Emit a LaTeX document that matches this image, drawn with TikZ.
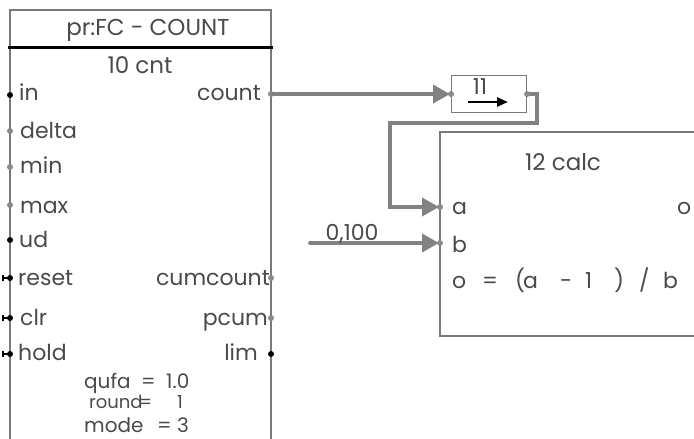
\documentclass[tikz,border=0pt]{standalone}
\usepackage{fontspec}
\setmainfont{Poppins}[Numbers=Monospaced]
\usetikzlibrary{arrows.meta}
\definecolor{txt}{HTML}{4A4A4A}
\definecolor{wire}{HTML}{828282}
\definecolor{frame}{HTML}{7A7A7A}
\definecolor{pdot}{HTML}{8A8A8A}
\begin{document}
\begin{tikzpicture}[x=1pt,y=-1pt,
  lbl/.style={inner sep=0pt, text=txt, font=\fontsize{22}{23}\selectfont},
  big/.style={inner sep=0pt, text=txt, font=\fontsize{23}{24}\selectfont},
  small/.style={inner sep=0pt, text=txt, font=\fontsize{20}{20}\selectfont},
  tiny/.style={inner sep=0pt, text=txt, font=\fontsize{18}{18}\selectfont},
  frm/.style={draw=frame, line width=1.1pt},
  wireln/.style={draw=wire, line width=3.8pt, line join=miter},
  arr/.style={-{Triangle[length=17pt,width=18pt]}, shorten >=1pt},
  gdot/.style={fill=pdot},
  bdot/.style={fill=black}]
\useasboundingbox (0,0) rectangle (694,439);
% ---- block 10 cnt
\draw[frm] (10,439) -- (10,10) -- (271,10) -- (271,439);
\draw[line width=3pt, black] (8,47) -- (273,47);
\node[big, anchor=base] (title) at (148,35) {pr:FC - COUNT};
\node[big, anchor=base] (cntname) at (140,73) {10 cnt};
% ports
\coordinate (pin) at (10,95);
\coordinate (pdelta) at (10,131);
\coordinate (pmin) at (10,167);
\coordinate (pmax) at (10,205);
\coordinate (pud) at (10,240);
\coordinate (preset) at (10,278);
\coordinate (pclr) at (10,318);
\coordinate (phold) at (10,354);
\coordinate (pcount) at (271,94);
\coordinate (pcumcount) at (271,278);
\coordinate (ppcum) at (271,318);
\coordinate (plim) at (271,354);
\node[lbl, anchor=base west] (lin) at (19,100) {in};
\node[lbl, anchor=base west] (ldelta) at (20,138) {delta};
\node[lbl, anchor=base west] (lmin) at (20,173) {min};
\node[lbl, anchor=base west] (lmax) at (20,213) {max};
\node[lbl, anchor=base west] (lud) at (19,247) {ud};
\node[lbl, anchor=base west] (lreset) at (18,285) {reset};
\node[lbl, anchor=base west] (lclr) at (20,325) {clr};
\node[lbl, anchor=base west] (lhold) at (18,360) {hold};
\node[lbl, anchor=base east] (lcount) at (261,100) {count};
\node[lbl, anchor=base east] (lcumcount) at (270,285) {cumcount};
\node[lbl, anchor=base east] (lpcum) at (268,325) {pcum};
\node[lbl, anchor=base east] (llim) at (258,360) {lim};
\node[small, anchor=base west] (pqufa) at (84,388) {\rlap{qufa}\hspace{57pt}\rlap{=}\hspace{25pt}1.0};
\node[tiny, anchor=base west] (pround) at (89,408) {\rlap{round}\hspace{50pt}\rlap{=}\hspace{38pt}1};
\node[small, anchor=base west] (pmode) at (84,432) {\rlap{mode}\hspace{73pt}\rlap{=}\hspace{20pt}3};
% port dots
\fill[bdot] (pin) circle (3);
\fill[gdot] (pdelta) circle (3);
\fill[gdot] (pmin) circle (3);
\fill[gdot] (pmax) circle (3);
\fill[bdot] (pud) circle (3);
\foreach \p in {preset,pclr,phold}{
  \fill[bdot] (\p) circle (3);
  \draw[black, line width=2pt] (\p) ++(-7,0) -- (\p);
  \fill[black] (\p) ++(-8,-3) rectangle ++(2,6);
}
\fill[gdot] (pcount) circle (3);
\fill[gdot] (pcumcount) circle (3);
\fill[gdot] (ppcum) circle (3);
\fill[bdot] (plim) circle (3);
% ---- block 11
\node[frm, anchor=north west, minimum width=75pt, minimum height=37pt, inner sep=0pt] (b11) at (451,75) {};
\node[lbl, anchor=base] (b11name) at (480,94) {11};
\coordinate (b11arrs) at (468,102);
\coordinate (b11arre) at (508,102);
\draw[black, line width=2.8pt, -{Triangle[length=11pt,width=9pt]}] (b11arrs) -- (b11arre);
\coordinate (p11in) at (b11.west);
\coordinate (p11out) at (b11.east);
% ---- block 12
\draw[frm] (694,132) -- (440,132) -- (440,336) -- (694,336);
\node[big, anchor=base] (calcname) at (563,170) {12 calc};
\coordinate (pa) at (440,207);
\coordinate (pb) at (440,243);
\node[lbl, anchor=base west] (la) at (452,214) {a};
\node[lbl, anchor=base west] (lb) at (452,252) {b};
\node[lbl, anchor=base west] (lo) at (677,214) {o};
\node[lbl, anchor=base west] (formula) at (452,288) {\rlap{o}\hspace{30pt}\rlap{=}\hspace{33pt}\rlap{(}\hspace{8pt}\rlap{a}\hspace{37pt}\rlap{-}\hspace{25pt}\rlap{1}\hspace{29pt}\rlap{)}\hspace{25pt}\rlap{/}\hspace{24pt}b};
% ---- connectors
\draw[wireln, arr] (pcount) -- (p11in);
\coordinate (w1) at (537,94);
\coordinate (w2) at (537,123);
\coordinate (w3) at (390,123);
\coordinate (w4) at (390,207);
\draw[wireln, arr] (p11out) -- (w1) -- (w2) -- (w3) -- (w4) -- (pa);
\coordinate (bsrc) at (310,243);
\draw[wireln, arr, line cap=round] (bsrc) -- (pb);
\node[lbl, anchor=base] (bval) at (352,240) {0,100};
\fill[gdot] (p11in) circle (3);
\fill[gdot] (p11out) circle (3);
\fill[gdot] (pa) circle (3);
\fill[gdot] (pb) circle (3);
\end{tikzpicture}
\end{document}
